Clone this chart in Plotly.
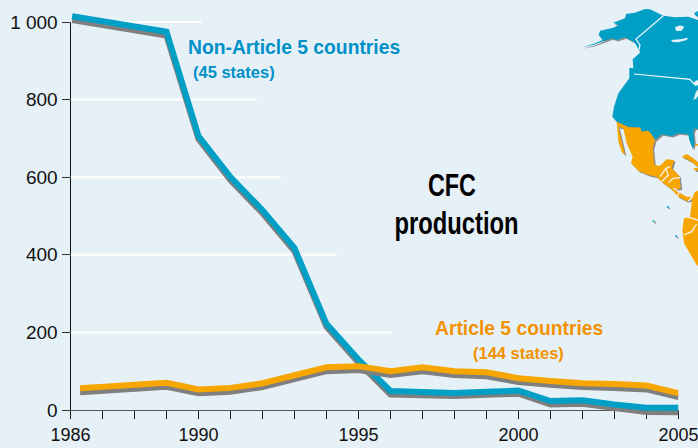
import plotly.graph_objects as go

W, H = 698, 448
BG = "#e6f0f7"
BLUE = "#00a0c6"
ORANGE = "#f7a600"
GREY = "#7f7f7f"

# Chart data
years_tick = list(range(1986, 2006))
tick_labels = {1986: "1986", 1990: "1990", 1995: "1995", 2000: "2000", 2005: "2005"}
y_ticks = [0, 200, 400, 600, 800, 1000]
y_tick_labels = ["0", "200", "400", "600", "800", "1 000"]

blue_years = [1986.05, 1989, 1990, 1991, 1992, 1993, 1994, 1995, 1996, 1997, 1998, 1999, 2000, 2001, 2002, 2003, 2004, 2005]
blue_values = [1015, 975, 706, 600, 515, 417, 222, 130, 49, 46, 44, 47, 50, 23, 25, 14, 6, 6]
blue_shadow = [1005, 965, 698, 592, 507, 409, 214, 122, 40, 38, 36, 39, 42, 14, 16, 5, -5, -6]

orange_years = [1986.3, 1989, 1990, 1991, 1992, 1993, 1994, 1995, 1996, 1997, 1998, 1999, 2000, 2001, 2002, 2003, 2004, 2005]
orange_values = [56, 70, 53, 57, 69, 88, 110, 113, 100, 110, 100, 97, 82, 75, 69, 67, 63, 43]
orange_shadow = [46, 60, 43, 47, 59, 78, 100, 103, 90, 100, 90, 87, 72, 65, 59, 57, 53, 33]

grid_values = [1000, 800, 600, 400, 200]
grid_ends = [1990.1, 1991.83, 1992.58, 1994.33, 1996.05]

# Decorative map outlines, in coordinates of a 3x crop of the map corner
north_america = [(65,142),(100,132),(128,120),(116,105),(120,92),(160,83),(175,75),(160,68),(195,55),(198,42),
    (225,38),(255,27),(270,28),(310,47),(345,52),(385,50),(420,62),(420,388),(405,385),(400,395),(403,430),
    (398,447),(388,420),(385,403),(355,400),(335,408),(305,403),(285,420),(270,397),(262,392),(245,395),
    (240,382),(205,380),(170,365),(157,350),(162,320),(175,280),(208,235),(208,203),(220,205),(218,178),
    (240,158),(225,128),(195,112),(170,120),(155,115),(130,124),(100,135)]
baffin = [(402,40),(420,30),(420,50),(408,48)]
mexico = [(170,365),(205,382),(240,383),(245,395),(262,392),(270,397),(285,420),(278,445),(283,495),(300,497),
    (320,478),(342,480),(335,505),(358,528),(362,565),(345,570),(380,590),(398,590),(398,600),(380,603),
    (355,590),(335,568),(310,550),(290,530),(265,525),(235,512),(213,490),(218,470),(200,430),(190,385),
    (175,380),(182,410),(195,465),(185,455),(175,425)]
south_america = [(420,568),(402,578),(395,610),(390,650),(372,655),(367,690),(372,730),(395,770),(410,795),(420,800)]
cuba = [(365,470),(380,462),(400,475),(420,492),(412,500),(395,485),(375,475)]
hispaniola = [(400,505),(420,503),(420,512),(405,511)]
bahamas = [(406,432),(414,432),(414,437),(406,437)]
islands = [[(321,618),(326,618),(326,623),(321,623)], [(278,661),(283,661),(283,666),(278,666)], [(346,706),(351,706),(351,711),(346,711)]]
lakes = [[(345,82),(360,76),(373,80),(365,92),(348,93)], [(333,120),(360,118),(385,113),(380,120),(355,127),(338,126)],
    [(398,250),(410,240),(420,245),(420,255),(405,257)], [(400,300),(408,275),(420,262),(420,272),(410,295)]]
borders = [[(310,47),(228,117),(240,135),(235,158)], [(222,222),(390,238),(400,250)],
    [(300,530),(318,505),(330,500)], [(305,545),(325,525),(318,507)], [(325,548),(340,535),(360,533)],
    [(340,565),(358,575),(352,590)], [(380,650),(420,662)], [(372,705),(395,695),(410,672)], [(385,603),(398,590)]]


def px(points, dx=0, dy=0):
    return [560 + p[0] / 3 + dx for p in points], [p[1] / 3 + dy for p in points]


fig = go.Figure()

# Keeps the main value axis on the page
fig.add_trace(go.Scatter(x=[years_tick[0]] * len(y_ticks), y=y_ticks, xaxis="x", yaxis="y", mode="lines",
                         line=dict(width=0, color=BG), hoverinfo="skip", showlegend=False))


def fill(points, color, dx=0, dy=0):
    xs, ys = px(points, dx, dy)
    fig.add_trace(go.Scatter(x=xs, y=ys, xaxis="x2", yaxis="y2", mode="lines", fill="toself", fillcolor=color,
                             line=dict(width=0, color=color), hoverinfo="skip", showlegend=False))


for shape in [north_america, baffin, mexico, south_america, cuba, hispaniola] + islands:
    fill(shape, "#8c8c8c", 1.5, 1.5)
for shape in [north_america, baffin] + islands:
    fill(shape, BLUE)
for shape in [mexico, south_america, cuba, hispaniola, bahamas]:
    fill(shape, ORANGE)
for shape in lakes:
    fill(shape, BG)
for line in borders:
    xs, ys = px(line)
    fig.add_trace(go.Scatter(x=xs, y=ys, xaxis="x2", yaxis="y2", mode="lines", line=dict(color="#f4f8fb", width=1.2),
                             hoverinfo="skip", showlegend=False))

# White partial gridlines
for value, end in zip(grid_values, grid_ends):
    fig.add_trace(go.Scatter(x=[1986, end], y=[value, value], xaxis="x", yaxis="y3", mode="lines",
                             line=dict(color="white", width=2), hoverinfo="skip", showlegend=False))

series = [
    (blue_years, blue_shadow, GREY, "Non-Article 5 shadow"),
    (blue_years, blue_values, BLUE, "Non-Article 5 countries"),
    (orange_years, orange_shadow, GREY, "Article 5 shadow"),
    (orange_years, orange_values, ORANGE, "Article 5 countries"),
]
for xs, ys, color, name in series:
    fig.add_trace(go.Scatter(x=xs, y=ys, xaxis="x", yaxis="y3", mode="lines", name=name,
                             line=dict(color=color, width=6), showlegend=False))

SANS = "Liberation Sans"
texts = [
    (293.5, 47, "<b>Non-Article 5 countries</b>", 19.3, "#0090c8"),
    (234, 72, "<b>(45 states)</b>", 16.5, "#0090c8"),
    (519, 328, "<b>Article 5 countries</b>", 19.3, "#f39200"),
    (518.5, 353, "<b>(144 states)</b>", 16.5, "#f39200"),
    (452, 185, "<b>CFC</b>", 32, "#000000"),
    (456, 223, "<b>production</b>", 32, "#000000"),
]
annotations = [dict(x=x, y=y, xref="x2", yref="y2", text=t, showarrow=False, xanchor="center", yanchor="middle",
                    font=dict(size=s, color=c, family=SANS)) for x, y, t, s, c in texts]

# vertical scale: 0 at y=410 px, 1000 at y=22 px
Y_TOP, Y_BOTTOM, Y_ZERO, UNIT = 2, 430, 410, 0.388

fig.update_layout(
    width=W, height=H, autosize=False,
    template="none",
    margin=dict(l=0, r=0, t=0, b=0),
    paper_bgcolor=BG, plot_bgcolor="rgba(0,0,0,0)",
    font=dict(family=SANS, color="#111111", size=18),
    showlegend=False,
    annotations=annotations,
    xaxis=dict(domain=[70.5 / W, 678.5 / W], range=[1986, 2005], anchor="y", automargin=False,
               tickmode="array", tickvals=years_tick, ticktext=[tick_labels.get(y, "") for y in years_tick],
               ticks="outside", ticklen=8, tickwidth=1, tickcolor="#222222", tickangle=0,
               ticklabeloverflow="allow",
               showgrid=False, zeroline=False, showline=True, linecolor="#555555", linewidth=1,
               tickfont=dict(size=18, family=SANS, color="#111111")),
    yaxis=dict(domain=[1 - 410 / H, 1 - 22 / H], range=[0, 1000], anchor="x", automargin=False,
               tickmode="array", tickvals=y_ticks, ticktext=y_tick_labels,
               ticks="outside", ticklen=8, tickwidth=1, tickcolor="#333333",
               showgrid=False, zeroline=False, showline=True, linecolor="#111111", linewidth=1,
               tickfont=dict(size=19, family=SANS, color="#111111")),
    yaxis3=dict(domain=[1 - Y_BOTTOM / H, 1 - Y_TOP / H], automargin=False,
                range=[(Y_ZERO - Y_BOTTOM) / UNIT, (Y_ZERO - Y_TOP) / UNIT], anchor="x", visible=False, fixedrange=True),
    xaxis2=dict(domain=[0, 1], range=[0, W], anchor="y2", visible=False, fixedrange=True, automargin=False),
    yaxis2=dict(domain=[0, 1], range=[H, 0], anchor="x2", visible=False, fixedrange=True, automargin=False),
)

post = """
document.body.style.margin = '0';
document.body.style.background = '%s';
var widths = {'CFC': 48, 'production': 124};
document.querySelectorAll('.annotation-text').forEach(function (t) {
  var w = widths[t.textContent];
  if (w) { t.setAttribute('textLength', w); t.setAttribute('lengthAdjust', 'spacingAndGlyphs'); }
});
""" % BG

fig.write_html("out.html", config=dict(displayModeBar=False), post_script=post)
